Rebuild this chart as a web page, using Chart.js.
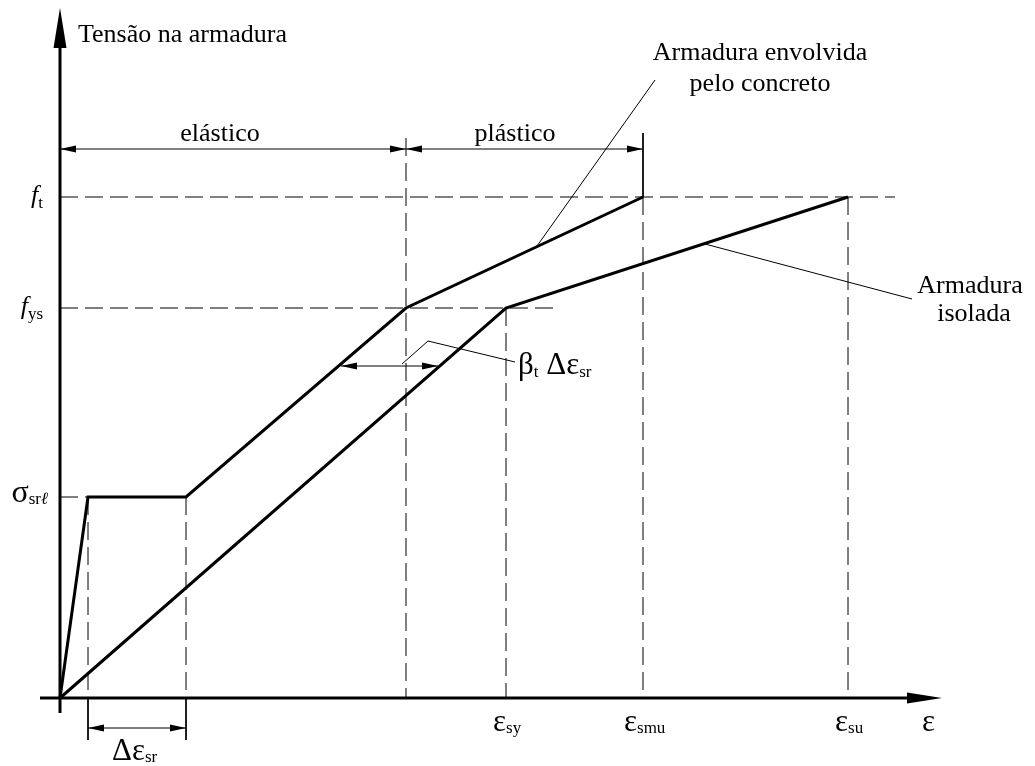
<!DOCTYPE html>
<html>
<head>
<meta charset="utf-8">
<script src="https://cdn.jsdelivr.net/npm/chart.js@4.4.0/dist/chart.umd.min.js"></script>
<style>
  body { margin: 0; background: #fff; }
  canvas { display: block; }
</style>
</head>
<body>
<canvas id="diagram" width="1035" height="766"></canvas>
<script>
// strain positions along the ε axis (diagram units)
const epsCrack = [28, 126];      // start / end of the σsrℓ plateau (Δεsr)
const epsYieldEmb = 346;         // yield of the embedded bar
const epsSy = 446;
const epsSmu = 583;
const epsSu = 788;

// stress levels
const sigmaSrl = 201;
const fys = 390;
const ft = 501;

// the two curves
const embeddedX = [0, epsCrack[0], epsCrack[1], epsYieldEmb, epsSmu];
const embeddedY = [0, sigmaSrl, sigmaSrl, fys, ft];
const isolatedX = [0, epsSy, epsSu];
const isolatedY = [0, fys, ft];

const dash = [18, 7];
const FONT = '"Liberation Serif", "Times New Roman", serif';

function pts(xs, ys) {
  return xs.map((v, i) => ({ x: v, y: ys[i] }));
}

function seg(data, width, dashed) {
  return {
    data: data,
    showLine: true,
    pointRadius: 0,
    borderColor: '#000',
    borderWidth: width,
    borderDash: dashed ? dash : [],
    borderJoinStyle: 'miter',
    borderCapStyle: 'butt',
    fill: false,
    clip: false
  };
}

const datasets = [
  seg(pts(embeddedX, embeddedY), 3),
  seg(pts(isolatedX, isolatedY), 3),
  // axes
  seg([{ x: 0, y: -15 }, { x: 0, y: 655 }], 3),
  seg([{ x: -20, y: 0 }, { x: 850, y: 0 }], 3),
  // horizontal reference lines
  seg([{ x: 0, y: ft }, { x: 835, y: ft }], 1, true),
  seg([{ x: 0, y: fys }, { x: 493, y: fys }], 1, true),
  seg([{ x: 0, y: sigmaSrl }, { x: epsCrack[0], y: sigmaSrl }], 1, true),
  // vertical reference lines
  seg([{ x: epsCrack[0], y: sigmaSrl }, { x: epsCrack[0], y: 0 }], 1, true),
  seg([{ x: epsCrack[1], y: sigmaSrl }, { x: epsCrack[1], y: 0 }], 1, true),
  seg([{ x: epsYieldEmb, y: 560 }, { x: epsYieldEmb, y: 0 }], 1, true),
  seg([{ x: epsSy, y: fys }, { x: epsSy, y: 0 }], 1, true),
  seg([{ x: epsSmu, y: ft }, { x: epsSmu, y: 0 }], 1, true),
  seg([{ x: epsSu, y: ft }, { x: epsSu, y: 0 }], 1, true),
  seg([{ x: epsSmu, y: 565 }, { x: epsSmu, y: ft }], 1),
  // extension lines for Δεsr
  seg([{ x: epsCrack[0], y: 0 }, { x: epsCrack[0], y: -42 }], 1),
  seg([{ x: epsCrack[1], y: 0 }, { x: epsCrack[1], y: -42 }], 1),
  // dimension lines
  seg([{ x: 0, y: 549 }, { x: epsYieldEmb, y: 549 }], 1),
  seg([{ x: epsYieldEmb, y: 549 }, { x: epsSmu, y: 549 }], 1),
  seg([{ x: epsCrack[0], y: -30 }, { x: epsCrack[1], y: -30 }], 1),
  seg([{ x: 281, y: 332 }, { x: 378, y: 332 }], 1),
  // leader lines
  seg([{ x: 477, y: 452 }, { x: 595, y: 618 }], 1),
  seg([{ x: 645, y: 454 }, { x: 852, y: 399 }], 1),
  seg([{ x: 342, y: 334 }, { x: 368, y: 357 }, { x: 455, y: 336 }], 1)
];

// arrowhead: tip at (x, y) in data units, dir = 'l' | 'r' | 'u'
function arrowHead(ctx, sx, sy, x, y, dir, len, half) {
  const px = sx.getPixelForValue(x);
  const py = sy.getPixelForValue(y);
  ctx.beginPath();
  if (dir === 'r') {
    ctx.moveTo(px, py); ctx.lineTo(px - len, py - half); ctx.lineTo(px - len, py + half);
  } else if (dir === 'l') {
    ctx.moveTo(px, py); ctx.lineTo(px + len, py - half); ctx.lineTo(px + len, py + half);
  } else {
    ctx.moveTo(px, py); ctx.lineTo(px - half, py + len); ctx.lineTo(px + half, py + len);
  }
  ctx.closePath();
  ctx.fill();
}

// text made of parts [text, font, dy]
function richText(ctx, px, py, parts, align) {
  let w = 0;
  parts.forEach(p => { ctx.font = p[1]; w += ctx.measureText(p[0]).width; });
  let cx = align === 'right' ? px - w : align === 'center' ? px - w / 2 : px;
  ctx.textAlign = 'left';
  ctx.textBaseline = 'alphabetic';
  parts.forEach(p => {
    ctx.font = p[1];
    ctx.fillText(p[0], cx, py + (p[2] || 0));
    cx += ctx.measureText(p[0]).width;
  });
}

const big = '26px ' + FONT;
const sub = '17px ' + FONT;
const greek = '31px ' + FONT;

const annotations = {
  id: 'annotations',
  afterDatasetsDraw(chart) {
    const ctx = chart.ctx;
    const sx = chart.scales.x, sy = chart.scales.y;
    const X = v => sx.getPixelForValue(v);
    const Y = v => sy.getPixelForValue(v);
    ctx.save();
    ctx.fillStyle = '#000';

    // axis arrows
    arrowHead(ctx, sx, sy, 0, 690, 'u', 40, 6.5);
    arrowHead(ctx, sx, sy, 882, 0, 'r', 35, 5.5);

    // dimension arrows
    arrowHead(ctx, sx, sy, 0, 549, 'l', 16, 3.5);
    arrowHead(ctx, sx, sy, epsYieldEmb, 549, 'r', 16, 3.5);
    arrowHead(ctx, sx, sy, epsYieldEmb, 549, 'l', 16, 3.5);
    arrowHead(ctx, sx, sy, epsSmu, 549, 'r', 16, 3.5);
    arrowHead(ctx, sx, sy, epsCrack[0], -30, 'l', 16, 3.5);
    arrowHead(ctx, sx, sy, epsCrack[1], -30, 'r', 16, 3.5);
    arrowHead(ctx, sx, sy, 281, 332, 'l', 16, 3.5);
    arrowHead(ctx, sx, sy, 378, 332, 'r', 16, 3.5);

    // plain texts
    richText(ctx, X(18), Y(656), [['Tensão na armadura', big]], 'left');
    richText(ctx, X(700), Y(638), [['Armadura envolvida', big]], 'center');
    richText(ctx, X(700), Y(607), [['pelo concreto', big]], 'center');
    richText(ctx, X(160), Y(557), [['elástico', big]], 'center');
    richText(ctx, X(455), Y(557), [['plástico', big]], 'center');
    richText(ctx, X(910), Y(405), [['Armadura', big]], 'center');
    richText(ctx, X(914), Y(377), [['isolada', big]], 'center');

    // stress labels
    richText(ctx, X(-17), Y(ft) + 6, [['f', 'italic ' + big], ['t', sub, 5]], 'right');
    richText(ctx, X(-17), Y(fys) + 6, [['f', 'italic ' + big], ['ys', sub, 5]], 'right');
    richText(ctx, X(-12), Y(sigmaSrl) + 5, [['σ', '32px ' + FONT], ['sr', sub, 2], ['ℓ', 'italic ' + sub, 2]], 'right');

    // β label
    richText(ctx, X(458), Y(324), [['β', greek], ['t', sub, 3], [' Δε', greek], ['sr', sub, 3]], 'left');

    // strain labels
    const yEps = Y(0) + 33;
    richText(ctx, X(epsSy) - 13, yEps, [['ε', greek], ['sy', sub, 2]], 'left');
    richText(ctx, X(epsSmu) - 19, yEps, [['ε', greek], ['smu', sub, 2]], 'left');
    richText(ctx, X(epsSu) - 13, yEps, [['ε', greek], ['su', sub, 2]], 'left');
    richText(ctx, X(862), yEps, [['ε', greek]], 'left');
    richText(ctx, X(52), Y(0) + 62, [['Δε', greek], ['sr', sub, 2]], 'left');

    ctx.restore();
  }
};

new Chart(document.getElementById('diagram').getContext('2d'), {
  type: 'scatter',
  data: { datasets: datasets },
  options: {
    responsive: false,
    animation: false,
    events: [],
    layout: { padding: 0 },
    plugins: { legend: { display: false }, tooltip: { enabled: false } },
    scales: {
      x: { type: 'linear', min: -60, max: 975, display: false },
      y: { type: 'linear', min: -68, max: 698, display: false }
    }
  },
  plugins: [annotations]
});
</script>
</body>
</html>
